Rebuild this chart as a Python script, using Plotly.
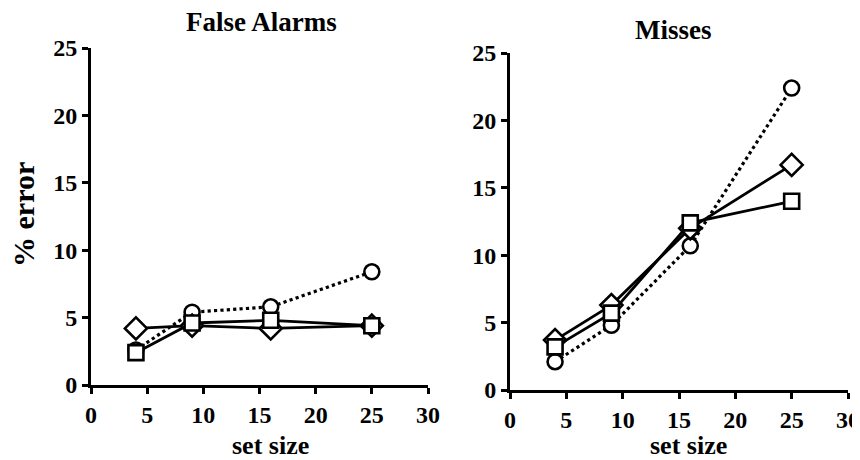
import plotly.graph_objects as go

set_size = [4, 9, 16, 25]

# False Alarms panel
fa_diamond = [4.2, 4.4, 4.2, 4.4]
fa_square = [2.4, 4.6, 4.8, 4.4]
fa_circle = [2.6, 5.4, 5.8, 8.4]

# Misses panel
mi_diamond = [3.7, 6.3, 12.0, 16.7]
mi_square = [3.2, 5.7, 12.4, 14.0]
mi_circle = [2.1, 4.8, 10.7, 22.4]

panel_titles = ["False Alarms", "Misses"]
x_ticks = [0, 5, 10, 15, 20, 25, 30]
y_ticks = [0, 5, 10, 15, 20, 25]

FONT = "Liberation Serif"
W, H = 852, 452   # page adds an 8px body margin
OFF = 8

fig = go.Figure()

MSIZE = {"circle": 15, "square": 15, "diamond": 17}

def add_series(xa, ya, yvals, symbol, dash):
    fig.add_trace(go.Scatter(
        x=set_size, y=yvals, xaxis=xa, yaxis=ya, mode="lines+markers",
        line=dict(color="black", width=2.8 if dash == "solid" else 3.2, dash=dash),
        marker=dict(symbol=symbol, size=MSIZE[symbol],
                    color="white", line=dict(color="black", width=2.6)),
        cliponaxis=False, showlegend=False))

for xa, ya, d, s, c in [("x", "y", fa_diamond, fa_square, fa_circle),
                        ("x2", "y2", mi_diamond, mi_square, mi_circle)]:
    add_series(xa, ya, c, "circle", "dot")
    add_series(xa, ya, d, "diamond", "solid")
    add_series(xa, ya, s, "square", "solid")

axis_common = dict(
    showline=True, linecolor="black", linewidth=3, ticks="outside", ticklen=6,
    tickwidth=2.5, tickcolor="black", showgrid=False, zeroline=False,
    tickfont=dict(family=FONT, size=24, color="black", weight="bold"),
    fixedrange=True, automargin=False,
)

def fx(p):
    return (p - OFF) / W

def fy(p):
    return 1 - (p - OFF) / H

fig.update_layout(
    width=W, height=H, margin=dict(l=0, r=0, t=0, b=0, autoexpand=False),
    paper_bgcolor="white", plot_bgcolor="white",
    xaxis=dict(domain=[fx(91), fx(428)], range=[0, 30], tickvals=x_ticks,
               anchor="y", **axis_common),
    yaxis=dict(domain=[fy(385), fy(48)], range=[0, 25], tickvals=y_ticks,
               anchor="x", **axis_common),
    xaxis2=dict(domain=[fx(510), fx(848)], range=[0, 30], tickvals=x_ticks,
                anchor="y2", **axis_common),
    yaxis2=dict(domain=[fy(390), fy(53)], range=[0, 25], tickvals=y_ticks,
                anchor="x2", **axis_common),
)

tfont = dict(family=FONT, size=27, color="black", weight="bold")
afont = dict(family=FONT, size=26, color="black", weight="bold")
ann = [
    dict(text=panel_titles[0], x=262, y=22, f=tfont),
    dict(text=panel_titles[1], x=673, y=30, f=tfont),
    dict(text="set size", x=270, y=445, f=afont),
    dict(text="set size", x=688, y=445, f=afont),
]
for a in ann:
    fig.add_annotation(text=a["text"], x=fx(a["x"]), y=fy(a["y"]), xref="paper",
                       yref="paper", showarrow=False, font=a["f"],
                       xanchor="center", yanchor="middle")
fig.add_annotation(text="% error", x=fx(23), y=fy(215), xref="paper", yref="paper",
                   showarrow=False, font=dict(family=FONT, size=30, color="black", weight="bold"),
                   textangle=-90, xanchor="center", yanchor="middle")

fig.write_html("out.html")
